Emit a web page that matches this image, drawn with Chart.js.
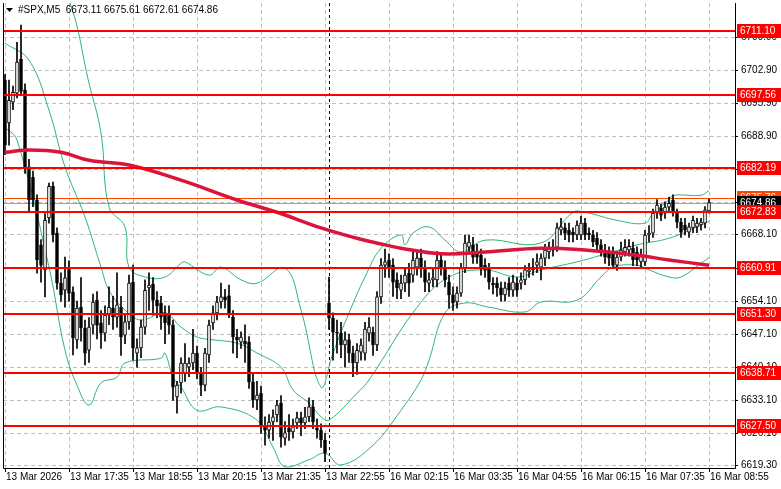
<!DOCTYPE html>
<html><head><meta charset="utf-8">
<script src="https://cdn.jsdelivr.net/npm/chart.js@4"></script>
<style>html,body{margin:0;padding:0;background:#fff}canvas{display:block}</style>
</head><body>
<canvas id="c" width="781" height="489"></canvas>
<script>
const symbolTitle = "#SPX,M5";
const lastQuote = ["6673.11","6675.61","6672.61","6674.86"];
const timeLabels = ["13 Mar 2026","13 Mar 17:35","13 Mar 18:55","13 Mar 20:15","13 Mar 21:35","13 Mar 22:55","16 Mar 02:15","16 Mar 03:35","16 Mar 04:55","16 Mar 06:15","16 Mar 07:35","16 Mar 08:55"];
const labelEvery = 16;
const sessionBreakIndex = 81;
const yTicks = [6709.90,6702.90,6695.90,6688.90,6681.90,6675.00,6668.10,6661.10,6654.10,6647.10,6640.10,6633.10,6626.10,6619.30];
const levels = [6711.10,6697.56,6682.19,6672.83,6660.91,6651.30,6638.71,6627.50];
const askPrice = 6675.76;
const bidPrice = 6674.86;

const opens = [6700.8,6691.7,6696.1,6698.0,6705.2,6698.7,6682.4,6680.2,6675.4,6665.9,6660.6,6671.6,6678.3,6668.4,6657.8,6656.3,6661.0,6655.9,6645.8,6652.7,6648.3,6643.6,6648.9,6654.2,6649.4,6647.2,6651.0,6652.5,6650.6,6652.7,6646.8,6649.6,6658.0,6643.0,6644.1,6648.5,6656.8,6657.6,6654.2,6653.6,6651.5,6651.0,6648.9,6633.7,6636.7,6638.8,6640.0,6640.9,6643.0,6639.0,6636.2,6642.6,6649.4,6651.5,6653.8,6654.9,6655.1,6650.6,6646.4,6645.3,6645.5,6645.3,6636.9,6633.1,6634.5,6627.4,6626.7,6628.4,6629.9,6632.4,6625.0,6627.1,6626.3,6628.2,6629.3,6628.2,6629.5,6631.6,6627.1,6626.7,6624.6,
6653.6,6650.4,6647.4,6647.2,6644.7,6645.8,6643.0,6640.9,6643.2,6643.0,6647.2,6647.4,6644.7,6654.9,6661.6,6662.7,6661.6,6658.5,6656.3,6657.8,6659.9,6659.5,6661.2,6663.1,6661.0,6657.8,6658.5,6658.5,6662.7,6661.0,6658.0,6655.3,6653.8,6655.7,6661.0,6665.4,6665.9,6664.4,6663.7,6661.6,6661.0,6657.8,6657.8,6656.8,6655.3,6657.8,6656.3,6657.8,6657.8,6658.5,6660.2,6660.6,6661.6,6661.2,6663.1,6664.4,6664.8,6665.4,6669.0,6669.5,6669.0,6668.6,6668.0,6668.0,6670.5,6668.4,6668.0,6667.3,6665.9,6664.8,6664.4,6664.2,6661.6,6663.3,6664.4,6664.8,6665.2,6664.4,6662.3,6662.3,6668.0,6668.4,6672.6,6673.7,6672.6,6673.9,6675.4,6672.8,6670.7,6670.1,6668.6,6669.5,6669.7,6670.1,6670.5,6673.11];
const closes = [6687.0,6696.5,6698.2,6704.6,6698.4,6682.4,6675.4,6675.4,6662.7,6661.6,6671.1,6678.3,6668.0,6657.8,6655.3,6658.9,6655.7,6646.2,6652.5,6648.3,6643.0,6648.5,6653.8,6648.9,6647.2,6651.0,6652.7,6650.6,6653.2,6646.4,6649.6,6657.8,6644.1,6644.1,6648.5,6656.3,6657.4,6654.2,6653.0,6650.6,6649.4,6648.9,6635.8,6636.2,6640.9,6640.9,6640.9,6643.0,6639.0,6636.2,6643.0,6648.9,6651.5,6653.8,6654.9,6654.2,6651.5,6646.4,6645.8,6646.4,6644.9,6636.9,6633.1,6634.1,6627.4,6626.7,6628.4,6629.5,6632.0,6625.2,6626.1,6626.3,6627.4,6629.3,6628.2,6629.5,6631.6,6628.4,6626.7,6624.6,6621.8,
6650.4,6647.4,6647.2,6644.7,6645.8,6643.0,6640.9,6643.6,6644.7,6648.1,6648.5,6644.7,6654.9,6661.6,6662.3,6661.0,6658.0,6656.8,6657.8,6659.5,6657.8,6662.7,6663.1,6661.0,6658.0,6658.5,6658.9,6662.7,6661.0,6658.5,6655.3,6653.6,6655.7,6661.0,6666.3,6666.5,6663.3,6663.3,6661.0,6660.6,6658.0,6657.4,6656.8,6655.3,6656.8,6656.3,6658.0,6656.3,6658.5,6660.6,6660.6,6661.2,6662.3,6663.1,6664.8,6665.0,6665.4,6669.5,6669.7,6668.4,6668.0,6668.0,6670.1,6670.5,6668.0,6668.0,6666.5,6665.9,6664.8,6663.3,6663.1,6661.6,6663.3,6664.8,6665.4,6665.6,6662.7,6662.7,6663.7,6668.0,6668.4,6672.6,6674.3,6672.2,6673.9,6674.7,6672.8,6670.7,6668.6,6669.0,6669.7,6671.1,6670.5,6670.7,6673.3,6674.86];
const highs = [6702.0,6700.8,6699.5,6708.8,6712.4,6700.0,6684.0,6681.5,6676.5,6667.0,6672.5,6679.0,6679.2,6669.5,6660.0,6663.3,6662.5,6657.0,6654.0,6659.0,6650.0,6650.5,6655.5,6656.0,6652.0,6653.0,6657.0,6655.0,6660.0,6655.0,6651.0,6659.5,6661.6,6646.0,6650.0,6658.5,6660.0,6659.0,6656.0,6655.0,6653.0,6653.0,6650.0,6637.0,6642.0,6645.0,6642.0,6648.0,6644.5,6640.0,6644.0,6650.0,6653.0,6655.0,6657.8,6656.5,6657.4,6652.0,6648.0,6647.5,6649.0,6646.5,6638.5,6637.0,6636.0,6629.5,6630.0,6631.0,6633.0,6634.0,6628.5,6630.0,6629.0,6630.5,6630.5,6631.5,6633.5,6633.0,6629.0,6628.0,6626.0,
6659.1,6651.5,6650.0,6649.5,6647.5,6647.0,6644.5,6645.0,6646.0,6649.5,6650.5,6648.5,6656.0,6663.0,6665.0,6664.0,6663.0,6660.0,6659.5,6661.0,6662.0,6664.5,6664.5,6665.0,6662.5,6660.0,6661.0,6664.5,6664.0,6662.5,6659.5,6657.0,6657.0,6662.0,6668.0,6668.0,6667.5,6666.0,6665.0,6663.0,6662.0,6659.0,6659.0,6658.0,6658.0,6659.0,6659.5,6659.0,6660.0,6661.5,6662.0,6663.0,6664.0,6664.0,6666.0,6666.5,6667.0,6670.5,6671.5,6670.5,6670.5,6669.5,6671.0,6672.0,6671.5,6669.5,6669.0,6668.5,6667.0,6666.0,6665.5,6665.5,6664.5,6666.5,6667.0,6667.0,6666.5,6665.5,6665.0,6669.0,6670.0,6673.5,6675.5,6674.5,6675.0,6676.0,6676.5,6673.5,6671.5,6671.5,6670.5,6672.0,6671.5,6671.5,6674.0,6675.61];
const lows = [6685.0,6687.0,6694.5,6697.0,6697.5,6681.0,6672.9,6674.0,6659.9,6658.0,6654.9,6670.5,6666.5,6656.5,6654.0,6652.7,6654.0,6642.6,6644.0,6645.5,6640.5,6641.0,6647.0,6646.0,6644.0,6645.5,6649.0,6648.0,6648.5,6642.5,6645.0,6648.0,6641.5,6640.0,6642.0,6647.0,6652.0,6651.0,6650.5,6648.0,6645.0,6647.0,6633.0,6630.3,6634.5,6637.0,6638.0,6639.5,6637.5,6634.0,6635.0,6641.0,6648.0,6650.0,6652.5,6652.5,6650.5,6643.0,6642.0,6644.0,6641.0,6635.5,6631.5,6631.0,6626.0,6623.5,6625.0,6624.5,6628.5,6623.1,6623.5,6624.5,6625.0,6627.0,6625.5,6627.0,6628.5,6627.0,6625.0,6623.0,6620.0,
6648.0,6641.5,6643.0,6642.0,6640.0,6641.0,6638.0,6638.5,6641.5,6641.5,6645.5,6642.5,6643.5,6653.5,6659.0,6659.0,6655.0,6654.5,6654.5,6656.0,6655.0,6658.0,6659.5,6659.0,6656.0,6656.0,6657.0,6657.0,6659.5,6657.0,6652.5,6652.0,6652.5,6655.0,6660.0,6664.0,6662.0,6662.0,6659.5,6659.0,6656.5,6655.5,6655.0,6654.0,6654.0,6655.0,6655.0,6655.0,6656.5,6657.5,6659.0,6659.5,6660.0,6658.5,6661.5,6663.0,6663.5,6664.5,6668.0,6667.0,6666.5,6666.5,6667.0,6667.0,6667.0,6667.0,6665.5,6664.5,6663.5,6662.0,6661.5,6660.9,6660.5,6662.5,6663.5,6663.5,6661.5,6661.5,6660.9,6661.5,6666.5,6667.5,6671.5,6671.0,6671.5,6673.0,6672.0,6669.5,6667.5,6668.0,6667.5,6668.5,6668.5,6669.0,6669.5,6672.61];

// moving average and Bollinger bands, read at sample bars: [bar index, value]
const maPoints = [[0,6685.5],[6,6686.0],[14,6685.5],[21,6683.8],[31,6682.8],[44,6679.6],[58,6675.4],[68,6672.8],[79,6669.5],[88,6667.3],[95,6665.9],[99,6665.2],[109,6664.0],[120,6664.4],[134,6665.2],[145,6664.8],[158,6663.7],[166,6662.7],[176,6661.6]];
const bandUpper = [[0,6740],[8,6730],[16,6717.7],[21,6700.1],[24,6689.6],[26,6673.9],[30,6669.7],[31,6661.2],[35,6659.1],[40,6659.1],[44,6662.0],[45,6662.3],[51,6659.5],[54,6661.2],[59,6658.5],[63,6657.8],[70,6661.0],[74,6652.1],[79,6635.8],[82,6643.0],[86,6651.5],[90,6659.1],[94,6665.2],[99,6668.0],[100,6665.9],[102,6668.4],[106,6669.7],[110,6666.9],[114,6664.4],[120,6666.9],[134,6666.3],[142,6672.8],[145,6672.8],[153,6671.1],[160,6670.5],[162,6672.6],[166,6675.4],[167,6676.4],[174,6676.4],[176,6677.4]];
const bandMiddle = [[0,6708.6],[6,6705.0],[11,6694.4],[15,6682.4],[20,6671.8],[24,6661.2],[26,6656.3],[30,6652.1],[34,6650.0],[40,6651.5],[44,6648.5],[48,6646.4],[52,6645.8],[58,6645.1],[63,6643.0],[69,6640.0],[72,6635.2],[76,6632.4],[79,6629.5],[81,6628.8],[88,6634.5],[91,6637.3],[103,6652.7],[111,6659.1],[120,6660.6],[128,6659.1],[134,6660.6],[143,6662.3],[149,6663.7],[158,6665.9],[166,6667.3],[174,6670.1],[176,6670.9]];
const bandLower = [[0,6690.8],[3,6688.1],[11,6661.2],[15,6643.6],[18,6636.2],[21,6632.0],[24,6636.7],[28,6637.9],[30,6640.9],[39,6641.9],[40,6643.0],[42,6637.9],[44,6635.8],[48,6630.9],[54,6631.6],[63,6628.8],[67,6623.1],[70,6618.9],[76,6620.4],[80,6621.8],[84,6619.3],[92,6623.5],[99,6630.9],[104,6637.3],[106,6641.5],[110,6651.5],[115,6653.6],[121,6652.7],[130,6651.7],[134,6653.8],[143,6654.2],[149,6659.1],[152,6661.2],[158,6661.6],[161,6660.6],[166,6659.1],[169,6659.1],[174,6662.0],[176,6663.2]];

const FONT = '10px "Liberation Sans", Arial, sans-serif';
const xy = a => a.map(p => ({x:p[0], y:p[1]}));
const bodies = opens.map((o,i)=>({x:i, y:[o, closes[i]]}));
const wicks = highs.map((h,i)=>({x:i, y:[lows[i], h]}));
const bodyColors = opens.map((o,i)=> closes[i] >= o ? '#ffffff' : '#000000');

const deco = {
  id:'deco',
  beforeDraw(c){ const x=c.ctx; x.save(); x.fillStyle='#fff'; x.fillRect(0,0,c.width,c.height); x.restore(); },
  beforeDatasetsDraw(c){
    const ctx=c.ctx, a=c.chartArea, xs=c.scales.x, ys=c.scales.y;
    ctx.save(); ctx.strokeStyle='#c0c0c0'; ctx.lineWidth=1; ctx.setLineDash([4,3]);
    yTicks.forEach(t=>{ const y=Math.round(ys.getPixelForValue(t))+0.5; ctx.beginPath(); ctx.moveTo(a.left,y); ctx.lineTo(a.right,y); ctx.stroke(); });
    timeLabels.forEach((l,k)=>{ const x=Math.round(xs.getPixelForValue(k*labelEvery))+0.5; ctx.beginPath(); ctx.moveTo(x,a.top); ctx.lineTo(x,a.bottom); ctx.stroke(); });
    ctx.strokeStyle='#000'; ctx.setLineDash([3,3]);
    const sx=Math.round(xs.getPixelForValue(sessionBreakIndex))+0.5;
    ctx.beginPath(); ctx.moveTo(sx,a.top); ctx.lineTo(sx,a.bottom); ctx.stroke();
    ctx.setLineDash([]);
    let y=Math.round(ys.getPixelForValue(bidPrice))+0.5; ctx.strokeStyle='#a0a0a0'; ctx.beginPath(); ctx.moveTo(a.left,y); ctx.lineTo(a.right,y); ctx.stroke();
    y=Math.round(ys.getPixelForValue(askPrice))+0.5; ctx.strokeStyle='#ff4500'; ctx.beginPath(); ctx.moveTo(a.left,y); ctx.lineTo(a.right,y); ctx.stroke();
    ctx.restore();
  },
  afterDatasetsDraw(c){
    const ctx=c.ctx, a=c.chartArea, ys=c.scales.y;
    ctx.save(); ctx.strokeStyle='#ff0000'; ctx.lineWidth=2;
    levels.forEach(l=>{ const y=Math.round(ys.getPixelForValue(l)); ctx.beginPath(); ctx.moveTo(a.left,y); ctx.lineTo(a.right,y); ctx.stroke(); });
    ctx.restore();
  },
  afterDraw(c){
    const ctx=c.ctx, a=c.chartArea, xs=c.scales.x, ys=c.scales.y;
    ctx.save();
    ctx.strokeStyle='#000'; ctx.lineWidth=1;
    ctx.beginPath(); ctx.moveTo(a.left+0.5,a.top); ctx.lineTo(a.left+0.5,a.bottom+0.5); ctx.lineTo(a.right+0.5,a.bottom+0.5); ctx.lineTo(a.right+0.5,a.top); ctx.stroke();
    ctx.font=FONT; ctx.fillStyle='#000'; ctx.textBaseline='middle'; ctx.textAlign='left';
    yTicks.forEach(t=>{ const y=Math.round(ys.getPixelForValue(t)); ctx.beginPath(); ctx.moveTo(a.right,y+0.5); ctx.lineTo(a.right+3,y+0.5); ctx.stroke(); ctx.fillText(t.toFixed(2), a.right+6, y); });
    ctx.textBaseline='top';
    timeLabels.forEach((l,k)=>{ const x=Math.round(xs.getPixelForValue(k*labelEvery)); ctx.beginPath(); ctx.moveTo(x+0.5,a.bottom); ctx.lineTo(x+0.5,a.bottom+4); ctx.stroke(); ctx.fillText(l, x+1, a.bottom+4); });
    const tag=(v,bg,fg)=>{ const y=Math.round(ys.getPixelForValue(v)); ctx.fillStyle=bg; ctx.fillRect(a.right+2,y-7,44,14); ctx.fillStyle=fg; ctx.textBaseline='middle'; ctx.fillText(v.toFixed(2), a.right+5, y); };
    tag(askPrice,'#ff4500','#ffffff');
    tag(bidPrice,'#000000','#ffffff');
    levels.forEach(l=>tag(l,'#ff0000','#ffffff'));
    ctx.fillStyle='#000'; ctx.beginPath(); ctx.moveTo(6,8); ctx.lineTo(13,8); ctx.lineTo(9.5,12); ctx.closePath(); ctx.fill();
    ctx.textBaseline='middle';
    ctx.fillText(symbolTitle+'  '+lastQuote.join(' '), 18, 10);
    ctx.restore();
  }
};

new Chart(document.getElementById('c'), {
  data:{ datasets:[
    {type:'line', data:xy(bandUpper), borderColor:'#2eb872', borderWidth:1, pointRadius:0, tension:0.4, order:3},
    {type:'line', data:xy(bandMiddle), borderColor:'#2eb872', borderWidth:1, pointRadius:0, tension:0.4, order:3},
    {type:'line', data:xy(bandLower), borderColor:'#2eb872', borderWidth:1, pointRadius:0, tension:0.4, order:3},
    {type:'bar', data:wicks, backgroundColor:'#000', barThickness:1, grouped:false, order:2},
    {type:'bar', data:bodies, backgroundColor:bodyColors, borderColor:'#000', borderWidth:1, borderSkipped:false, barThickness:3, minBarLength:1, grouped:false, order:1},
    {type:'line', data:xy(maPoints), borderColor:'#dc143c', borderWidth:3.5, pointRadius:0, tension:0.4, order:0}
  ]},
  options:{
    responsive:false, animation:false, devicePixelRatio:1,
    layout:{padding:{left:3,right:46,top:3,bottom:21}},
    plugins:{legend:{display:false}, tooltip:{enabled:false}},
    scales:{
      x:{type:'linear', min:-0.5, max:182.5, offset:false, display:false},
      y:{type:'linear', min:6618.67, max:6717.1, display:false}
    }
  },
  plugins:[deco]
});
</script>
</body></html>
